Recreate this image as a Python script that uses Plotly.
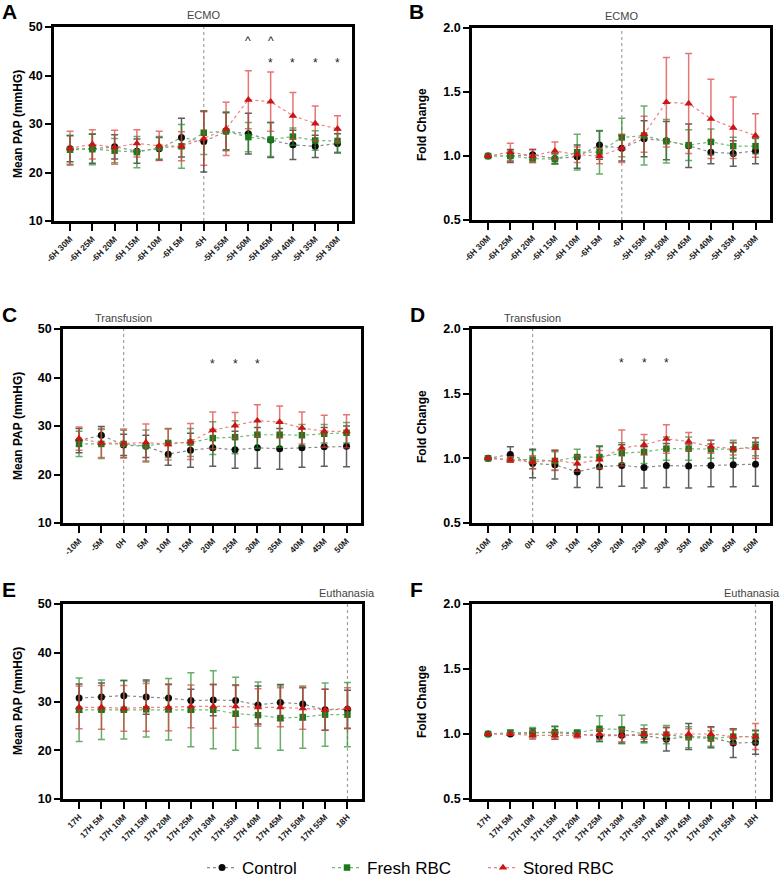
import plotly.graph_objects as go

W, H = 783, 878

# ---------------- data ----------------
labels_ab = ["-6H 30M", "-6H 25M", "-6H 20M", "-6H 15M", "-6H 10M", "-6H 5M", "-6H",
             "-5H 55M", "-5H 50M", "-5H 45M", "-5H 40M", "-5H 35M", "-5H 30M"]
labels_cd = ["-10M", "-5M", "0H", "5M", "10M", "15M", "20M", "25M", "30M", "35M", "40M", "45M", "50M"]
labels_ef = ["17H", "17H 5M", "17H 10M", "17H 15M", "17H 20M", "17H 25M", "17H 30M",
             "17H 35M", "17H 40M", "17H 45M", "17H 50M", "17H 55M", "18H"]

# Panel A: Mean PAP around ECMO
a_control = [24.9, 24.9, 25.3, 24.4, 24.9, 27.2, 26.4, 28.5, 28.0, 26.7, 25.7, 25.4, 26.0]
a_control_sd = [2.7, 3.0, 2.5, 2.5, 2.3, 4.0, 6.3, 3.8, 4.2, 3.6, 3.0, 2.3, 2.0]
a_fresh = [24.7, 24.8, 24.5, 24.2, 25.1, 25.4, 28.2, 28.5, 27.3, 26.8, 27.4, 26.6, 26.5]
a_fresh_sd = [3.0, 3.2, 2.5, 3.2, 2.3, 4.5, 4.5, 4.0, 3.0, 3.5, 1.8, 2.0, 2.3]
a_stored = [25.0, 25.8, 25.2, 26.0, 25.5, 25.4, 27.0, 29.0, 35.0, 34.6, 31.7, 30.1, 29.0]
a_stored_sd = [3.5, 3.0, 3.5, 2.8, 3.0, 3.0, 5.5, 5.5, 6.0, 6.1, 4.8, 3.6, 2.7]

# Panel B: Fold change around ECMO
b_control = [1.00, 1.00, 1.01, 0.98, 0.995, 1.085, 1.06, 1.135, 1.12, 1.08, 1.03, 1.02, 1.04]
b_control_sd = [0.0, 0.05, 0.04, 0.04, 0.09, 0.11, 0.10, 0.14, 0.15, 0.17, 0.09, 0.10, 0.10]
b_fresh = [1.00, 1.00, 0.98, 0.975, 1.03, 1.03, 1.145, 1.16, 1.115, 1.085, 1.11, 1.077, 1.077]
b_fresh_sd = [0.0, 0.04, 0.03, 0.04, 0.14, 0.17, 0.15, 0.23, 0.17, 0.12, 0.10, 0.07, 0.06]
b_stored = [1.00, 1.03, 1.00, 1.04, 1.01, 1.00, 1.06, 1.17, 1.42, 1.41, 1.29, 1.22, 1.16]
b_stored_sd = [0.0, 0.07, 0.05, 0.07, 0.06, 0.06, 0.11, 0.14, 0.35, 0.39, 0.31, 0.24, 0.17]

# Panel C: Mean PAP around transfusion
c_control = [27.0, 28.1, 26.1, 25.8, 24.2, 25.0, 25.5, 25.1, 25.5, 25.3, 25.5, 25.7, 25.8]
c_control_sd = [2.5, 1.8, 2.2, 2.3, 2.3, 3.5, 3.8, 3.8, 4.2, 4.2, 4.0, 4.0, 4.2]
c_fresh = [26.3, 26.3, 26.3, 25.9, 26.5, 26.6, 27.5, 27.7, 28.2, 28.2, 28.1, 28.4, 28.6]
c_fresh_sd = [2.6, 3.0, 2.8, 3.3, 3.0, 2.9, 3.4, 3.4, 2.8, 2.6, 2.2, 1.9, 2.1]
c_stored = [27.4, 26.5, 26.4, 26.6, 26.2, 26.8, 29.1, 30.1, 31.1, 30.8, 29.6, 28.9, 28.9]
c_stored_sd = [2.4, 3.0, 3.0, 3.8, 3.2, 3.7, 3.8, 2.7, 3.3, 3.3, 3.3, 3.3, 3.4]

# Panel D: Fold change around transfusion
d_control = [1.00, 1.03, 0.96, 0.95, 0.895, 0.935, 0.945, 0.93, 0.945, 0.94, 0.945, 0.95, 0.955]
d_control_sd = [0.0, 0.06, 0.11, 0.11, 0.12, 0.16, 0.16, 0.16, 0.17, 0.17, 0.165, 0.17, 0.17]
d_fresh = [1.00, 0.99, 0.99, 0.98, 1.01, 1.01, 1.04, 1.05, 1.075, 1.075, 1.07, 1.07, 1.09]
d_fresh_sd = [0.0, 0.02, 0.07, 0.07, 0.06, 0.08, 0.08, 0.09, 0.09, 0.09, 0.07, 0.07, 0.07]
d_stored = [1.00, 0.99, 0.97, 0.985, 0.96, 0.99, 1.08, 1.105, 1.15, 1.13, 1.09, 1.075, 1.08]
d_stored_sd = [0.0, 0.02, 0.05, 0.08, 0.06, 0.07, 0.14, 0.08, 0.11, 0.07, 0.05, 0.05, 0.08]

# Panel E: Mean PAP before euthanasia
e_control = [30.7, 30.9, 31.2, 30.9, 30.7, 30.2, 30.3, 30.2, 29.3, 29.8, 29.5, 28.3, 28.4]
e_control_sd = [2.9, 2.9, 3.1, 3.5, 2.8, 2.3, 3.2, 3.2, 3.9, 3.7, 3.3, 4.2, 3.9]
e_fresh = [28.3, 28.3, 28.3, 28.4, 28.4, 28.3, 28.3, 27.5, 27.2, 26.6, 26.8, 27.3, 27.3]
e_fresh_sd = [6.5, 6.1, 6.0, 5.7, 6.3, 7.6, 8.0, 7.5, 6.8, 6.6, 6.4, 6.5, 6.6]
e_stored = [28.8, 28.8, 28.6, 28.8, 28.8, 29.0, 29.0, 29.0, 28.8, 28.8, 28.6, 28.3, 28.6]
e_stored_sd = [4.4, 4.5, 4.7, 4.9, 4.8, 4.4, 4.5, 4.3, 3.8, 4.0, 4.3, 4.2, 4.2]

# Panel F: Fold change before euthanasia
f_control = [1.00, 1.00, 1.01, 1.01, 1.00, 0.985, 0.99, 0.99, 0.96, 0.98, 0.975, 0.93, 0.935]
f_control_sd = [0.0, 0.01, 0.03, 0.05, 0.02, 0.04, 0.06, 0.05, 0.09, 0.10, 0.08, 0.11, 0.09]
f_fresh = [1.00, 1.01, 1.01, 1.015, 1.01, 1.04, 1.035, 1.00, 0.995, 0.975, 0.965, 0.98, 0.98]
f_fresh_sd = [0.0, 0.02, 0.04, 0.04, 0.02, 0.10, 0.11, 0.07, 0.07, 0.08, 0.06, 0.05, 0.05]
f_stored = [1.00, 1.00, 0.99, 0.99, 0.99, 1.00, 0.99, 1.00, 1.00, 1.00, 1.00, 0.98, 0.98]
f_stored_sd = [0.0, 0.01, 0.03, 0.03, 0.02, 0.04, 0.05, 0.04, 0.05, 0.04, 0.05, 0.06, 0.10]

group_names = ["Control", "Fresh RBC", "Stored RBC"]

# ---------------- styling ----------------
FONT = "Arial, Liberation Sans, sans-serif"
styles = [
    dict(symbol="circle", color="#0a0a0a", line="#8a8a8a", err="rgba(40,40,40,0.75)", size=7),
    dict(symbol="square", color="#1a7a1a", line="#6fb86f", err="rgba(40,140,40,0.7)", size=6.5),
    dict(symbol="triangle-up", color="#cc1414", line="#ee8080", err="rgba(220,60,60,0.7)", size=7.5),
]
legend_ids = ["legend", "legend2", "legend3"]
legend_px = [202, 327, 483]


def px_x(p):
    return p / W


def px_y(p):
    return 1 - p / H


panels = [
    dict(labels=labels_ab, data=[(a_control, a_control_sd), (a_fresh, a_fresh_sd), (a_stored, a_stored_sd)],
         dx=(54, 352), dy=(27, 221), kind="pap"),
    dict(labels=labels_ab, data=[(b_control, b_control_sd), (b_fresh, b_fresh_sd), (b_stored, b_stored_sd)],
         dx=(472, 770), dy=(28, 220), kind="fold"),
    dict(labels=labels_cd, data=[(c_control, c_control_sd), (c_fresh, c_fresh_sd), (c_stored, c_stored_sd)],
         dx=(63, 361), dy=(329, 523), kind="pap"),
    dict(labels=labels_cd, data=[(d_control, d_control_sd), (d_fresh, d_fresh_sd), (d_stored, d_stored_sd)],
         dx=(472, 770), dy=(329, 523), kind="fold"),
    dict(labels=labels_ef, data=[(e_control, e_control_sd), (e_fresh, e_fresh_sd), (e_stored, e_stored_sd)],
         dx=(63, 362), dy=(604, 799), kind="pap"),
    dict(labels=labels_ef, data=[(f_control, f_control_sd), (f_fresh, f_fresh_sd), (f_stored, f_stored_sd)],
         dx=(472, 770), dy=(604, 799), kind="fold"),
]

fig = go.Figure()
layout = dict(
    width=W, height=H,
    margin=dict(l=0, r=0, t=0, b=0, pad=0, autoexpand=False),
    paper_bgcolor="white", plot_bgcolor="white",
    font=dict(family=FONT, color="black"),
    showlegend=True,
)
for lid, lx in zip(legend_ids, legend_px):
    layout[lid] = dict(orientation="h", x=px_x(lx), xanchor="left", y=px_y(868), yanchor="middle",
                       font=dict(size=17, family=FONT, color="black"), itemwidth=30,
                       bgcolor="rgba(0,0,0,0)", borderwidth=0)

shapes = []
annotations = []

for i, p in enumerate(panels):
    k = i + 1
    xa = "x" if k == 1 else f"x{k}"
    ya = "y" if k == 1 else f"y{k}"
    xs = list(range(len(p["labels"])))
    for g, ((vals, sds), st) in enumerate(zip(p["data"], styles)):
        fig.add_trace(go.Scatter(
            x=xs, y=vals, xaxis=xa, yaxis=ya,
            name=group_names[g], legendgroup=group_names[g], showlegend=(k == 1),
            legend=legend_ids[g],
            mode="lines+markers",
            line=dict(color=st["line"], width=1.2, dash="dot"),
            marker=dict(symbol=st["symbol"], color=st["color"], size=st["size"], line=dict(width=0)),
            error_y=dict(type="data", array=sds, visible=True, color=st["err"], thickness=1.5, width=3.5),
        ))
    x0, x1 = p["dx"]
    y0, y1 = p["dy"]
    axkey = "xaxis" if k == 1 else f"xaxis{k}"
    aykey = "yaxis" if k == 1 else f"yaxis{k}"
    layout[axkey] = dict(
        domain=[px_x(x0), px_x(x1)], anchor=ya, range=[-0.72, 12.65], automargin=False,
        tickmode="array", tickvals=xs, ticktext=p["labels"], tickangle=-45,
        tickfont=dict(size=8.5, color="#222222", family=FONT, weight="bold"),
        showline=True, linecolor="black", linewidth=2.5, mirror=True,
        ticks="outside", ticklen=7, tickwidth=2, tickcolor="black",
        showgrid=False, zeroline=False, fixedrange=True,
    )
    if p["kind"] == "pap":
        yr, tv, tt = [10, 50], [10, 20, 30, 40, 50], ["10", "20", "30", "40", "50"]
    else:
        yr, tv, tt = [0.5, 2.0], [0.5, 1.0, 1.5, 2.0], ["0.5", "1.0", "1.5", "2.0"]
    layout[aykey] = dict(
        domain=[px_y(y1), px_y(y0)], anchor=xa, range=yr, automargin=False,
        tickmode="array", tickvals=tv, ticktext=tt,
        tickfont=dict(size=12.5, color="black", family=FONT, weight="bold"),
        showline=True, linecolor="black", linewidth=2.5, mirror=True,
        ticks="outside", ticklen=6, tickwidth=2, tickcolor="black",
        showgrid=False, zeroline=False, fixedrange=True,
    )

# event lines and their labels
events = [(6, "ECMO"), (6, "ECMO"), (2, "Transfusion"), (2, "Transfusion"), (12, "Euthanasia"), (12, "Euthanasia")]
title_y = [15, 16, 318, 318, 593, 593]
for i, (ev, name) in enumerate(events):
    k = i + 1
    xa = "x" if k == 1 else f"x{k}"
    ya = "y" if k == 1 else f"y{k}"
    shapes.append(dict(type="line", xref=xa, yref=f"{ya} domain", x0=ev, x1=ev, y0=0, y1=1,
                       line=dict(color="#a0a0a0", width=1.2, dash="dot"), layer="below"))
    if k == 6:
        annotations.append(dict(text=name, xref="paper", yref="paper", x=px_x(782), y=px_y(title_y[i]),
                                showarrow=False, xanchor="right", yanchor="middle",
                                font=dict(size=11, color="#444444", family=FONT)))
    else:
        annotations.append(dict(text=name, xref=xa, yref="paper", x=ev, y=px_y(title_y[i]),
                                showarrow=False, xanchor="center", yanchor="middle",
                                font=dict(size=11, color="#444444", family=FONT)))

# panel letters
letters = [("A", 9, 12), ("B", 416, 12), ("C", 9, 314), ("D", 417, 314), ("E", 9, 589), ("F", 416, 589)]
for t, lx, ly in letters:
    annotations.append(dict(text=f"<b>{t}</b>", xref="paper", yref="paper", x=px_x(lx), y=px_y(ly),
                            showarrow=False, xanchor="center", yanchor="middle",
                            font=dict(size=21, color="black", family=FONT)))

# y-axis titles
ytitles = [("Mean PAP (mmHG)", 18, 124), ("Fold Change", 422, 124),
           ("Mean PAP (mmHG)", 18, 426), ("Fold Change", 422, 426),
           ("Mean PAP (mmHG)", 18, 701), ("Fold Change", 422, 701)]
for t, tx, ty in ytitles:
    annotations.append(dict(text=f"<b>{t}</b>", xref="paper", yref="paper", x=px_x(tx), y=px_y(ty),
                            showarrow=False, textangle=-90, xanchor="center", yanchor="middle",
                            font=dict(size=12, color="black", family=FONT)))

# significance marks
sig_marks = [
    ("x", "y", "^", [8, 9], 47.6),
    ("x", "y", "*", [9, 10, 11, 12], 43.0),
    ("x3", "y3", "*", [6, 7, 8], 43.1),
    ("x4", "y4", "*", [6, 7, 8], 1.75),
]
for xa, ya, sym, xsig, yv in sig_marks:
    for xv in xsig:
        annotations.append(dict(text=sym, xref=xa, yref=ya, x=xv, y=yv, showarrow=False,
                                xanchor="center", yanchor="middle", yshift=-2,
                                font=dict(size=12, color="#222222", family=FONT)))

layout["shapes"] = shapes
layout["annotations"] = annotations
fig.update_layout(**layout)
fig.write_html("out.html", config={"displayModeBar": False},
               post_script="document.body.style.margin='0';document.body.style.padding='0';"
                           "document.body.style.overflow='hidden';")
